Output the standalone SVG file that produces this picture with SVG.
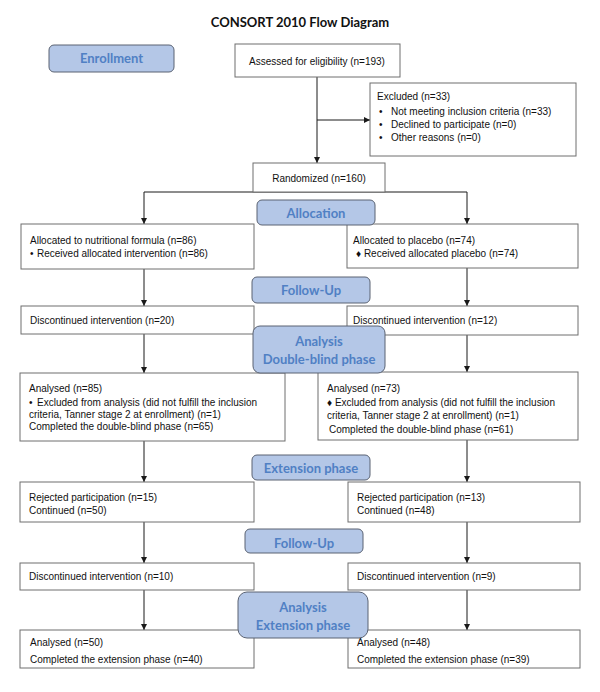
<svg xmlns="http://www.w3.org/2000/svg" width="600" height="692" viewBox="0 0 600 692">
<style>
  .box { fill: #ffffff; stroke: #6e6e6e; stroke-width: 1; }
  .lbl { fill: #b4c7e7; stroke: #5a6272; stroke-width: 1; }
  .t { font-family: "Liberation Sans", Arial, sans-serif; font-size: 10px; fill: #111; }
  .lt { font-family: Lato, "Liberation Sans", sans-serif; font-weight: bold; font-size: 13px; fill: #5080c4; text-anchor: middle; }
  .title { font-family: Lato, "Liberation Sans", sans-serif; font-weight: bold; font-size: 13px; fill: #111; text-anchor: middle; }
  .c { fill: none; stroke: #1a1a1a; stroke-width: 1; }
  .ca { fill: none; stroke: #1a1a1a; stroke-width: 1; marker-end: url(#ah); }
</style>
<defs>
  <marker id="ah" markerUnits="userSpaceOnUse" markerWidth="6" markerHeight="6" refX="6" refY="3" orient="auto">
    <path d="M0,0 L6,3 L0,6 z" fill="#1a1a1a"/>
  </marker>
</defs>
<rect width="600" height="692" fill="#ffffff"/>
<text class="title" x="300" y="27">CONSORT 2010 Flow Diagram</text>

<g id="connectors">
  <path class="ca" d="M317,77 V163"/>
  <path class="ca" d="M317,120 H370"/>
  <path class="c" d="M144,192 H467"/>
  <path class="ca" d="M144,192 V224"/>
  <path class="ca" d="M467,192 V224"/>
  <path class="ca" d="M144,269 V306"/>
  <path class="ca" d="M467,268 V306"/>
  <path class="ca" d="M144,334 V373"/>
  <path class="ca" d="M467,335 V372"/>
  <path class="ca" d="M144,441 V482"/>
  <path class="ca" d="M467,440 V482"/>
  <path class="ca" d="M144,522 V563"/>
  <path class="ca" d="M467,522 V563"/>
  <path class="ca" d="M144,590 V630"/>
  <path class="ca" d="M467,590 V630"/>
</g>

<g id="assessed">
  <rect class="box" x="235" y="44" width="165" height="33"/>
  <text class="t" x="317" y="65" text-anchor="middle">Assessed for eligibility (n=193)</text>
</g>
<g id="excluded">
  <rect class="box" x="370" y="83" width="206" height="73"/>
  <text class="t" x="377" y="99.5">Excluded (n=33)</text>
  <text class="t" x="379" y="114.5">•</text><text class="t" x="391" y="114.5">Not meeting inclusion criteria (n=33)</text>
  <text class="t" x="379" y="127.5">•</text><text class="t" x="391" y="127.5">Declined to participate (n=0)</text>
  <text class="t" x="379" y="140.5">•</text><text class="t" x="391" y="140.5">Other reasons (n=0)</text>
</g>
<g id="randomized">
  <rect class="box" x="253" y="163" width="132" height="29"/>
  <text class="t" x="319" y="181.5" text-anchor="middle">Randomized (n=160)</text>
</g>
<g id="alloc-left">
  <rect class="box" x="21" y="224" width="233" height="45"/>
  <text class="t" x="30" y="243.5">Allocated to nutritional formula (n=86)</text>
  <text class="t" x="30" y="256.5">•</text><text class="t" x="37" y="256.5">Received allocated intervention (n=86)</text>
</g>
<g id="alloc-right">
  <rect class="box" x="347" y="224" width="231" height="44"/>
  <text class="t" x="353" y="243.5">Allocated to placebo (n=74)</text>
  <text class="t" x="356" y="256.5">♦ Received allocated placebo (n=74)</text>
</g>
<g id="disc-left">
  <rect class="box" x="21" y="306" width="233" height="28"/>
  <text class="t" x="30" y="323.5">Discontinued intervention (n=20)</text>
</g>
<g id="disc-right">
  <rect class="box" x="347" y="306" width="231" height="29"/>
  <text class="t" x="353" y="323.5">Discontinued intervention (n=12)</text>
</g>
<g id="analysed-left">
  <rect class="box" x="20" y="373" width="265" height="68"/>
  <text class="t" x="29" y="391.5">Analysed (n=85)</text>
  <text class="t" x="29" y="405.5">•</text><text class="t" x="37" y="405.5">Excluded from analysis (did not fulfill the inclusion</text>
  <text class="t" x="29" y="417.5">criteria, Tanner stage 2 at enrollment) (n=1)</text>
  <text class="t" x="29" y="429.5">Completed the double-blind phase (n=65)</text>
</g>
<g id="analysed-right">
  <rect class="box" x="318" y="372" width="260" height="68"/>
  <text class="t" x="327" y="391.5">Analysed (n=73)</text>
  <text class="t" x="327" y="405.5">♦ Excluded from analysis (did not fulfill the inclusion</text>
  <text class="t" x="327" y="419">criteria, Tanner stage 2 at enrollment) (n=1)</text>
  <text class="t" x="329" y="432.5">Completed the double-blind phase (n=61)</text>
</g>
<g id="rejected-left">
  <rect class="box" x="20" y="482" width="234" height="40"/>
  <text class="t" x="29" y="500.5">Rejected participation (n=15)</text>
  <text class="t" x="29" y="513.5">Continued (n=50)</text>
</g>
<g id="rejected-right">
  <rect class="box" x="348" y="482" width="232" height="40"/>
  <text class="t" x="357" y="500.5">Rejected participation (n=13)</text>
  <text class="t" x="357" y="513.5">Continued (n=48)</text>
</g>
<g id="disc2-left">
  <rect class="box" x="20" y="563" width="234" height="27"/>
  <text class="t" x="29" y="580">Discontinued intervention (n=10)</text>
</g>
<g id="disc2-right">
  <rect class="box" x="348" y="563" width="232" height="27"/>
  <text class="t" x="357" y="580">Discontinued intervention (n=9)</text>
</g>
<g id="final-left">
  <rect class="box" x="20" y="630" width="234" height="38"/>
  <text class="t" x="30" y="645.5">Analysed (n=50)</text>
  <text class="t" x="30" y="662.5">Completed the extension phase (n=40)</text>
</g>
<g id="final-right">
  <rect class="box" x="348" y="630" width="232" height="38"/>
  <text class="t" x="357" y="645.5">Analysed (n=48)</text>
  <text class="t" x="357" y="662.5">Completed the extension phase (n=39)</text>
</g>

<g id="label-enrollment">
  <rect class="lbl" x="49" y="45" width="125" height="27" rx="5"/>
  <text class="lt" x="111.5" y="62.5">Enrollment</text>
</g>
<g id="label-allocation">
  <rect class="lbl" x="257" y="200" width="118" height="25" rx="5"/>
  <text class="lt" x="316" y="217.5">Allocation</text>
</g>
<g id="label-followup1">
  <rect class="lbl" x="252" y="277" width="118" height="26" rx="5"/>
  <text class="lt" x="311" y="294.5">Follow-Up</text>
</g>
<g id="label-analysis1">
  <rect class="lbl" x="253" y="326" width="132" height="47" rx="7"/>
  <text class="lt" x="319" y="345.5">Analysis</text>
  <text class="lt" x="319" y="364">Double-blind phase</text>
</g>
<g id="label-extension">
  <rect class="lbl" x="252" y="455" width="118" height="25" rx="5"/>
  <text class="lt" x="311" y="472.5">Extension phase</text>
</g>
<g id="label-followup2">
  <rect class="lbl" x="245" y="529" width="118" height="24" rx="5"/>
  <text class="lt" x="304" y="547.5">Follow-Up</text>
</g>
<g id="label-analysis2">
  <rect class="lbl" x="238" y="592" width="130" height="46" rx="9"/>
  <text class="lt" x="303" y="611.5">Analysis</text>
  <text class="lt" x="303" y="629.5">Extension phase</text>
</g>
</svg>
